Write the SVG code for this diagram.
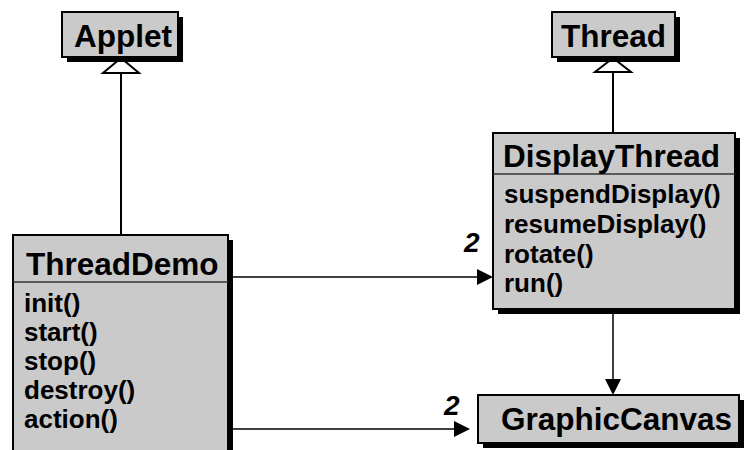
<svg xmlns="http://www.w3.org/2000/svg" width="744" height="450" viewBox="0 0 744 450">
<style>
.box{fill:#cacaca;stroke:#000;stroke-width:2}
.shadow{fill:#000}
.div{stroke:#333;stroke-width:1.5}
.title{font-family:"Liberation Sans",Arial,sans-serif;font-weight:bold;font-size:31.5px;fill:#000}
.meth{font-family:"Liberation Sans",Arial,sans-serif;font-weight:bold;font-size:26px;fill:#000}
.mult{font-family:"Liberation Sans",Arial,sans-serif;font-weight:bold;font-style:italic;font-size:28px;fill:#000}
.gen{stroke:#000;stroke-width:2;fill:none}
.assoc{stroke:#000;stroke-width:1.5;fill:none}
.tri{fill:#fff;stroke:#000;stroke-width:2}
.head{fill:#000}
</style>
<rect width="744" height="450" fill="#fff"/>
<g id="connectors">
  <line class="gen" x1="121" y1="73" x2="121" y2="235"/>
  <polygon class="tri" points="121,58 103,73 139,73"/>
  <line class="gen" x1="613" y1="72" x2="613" y2="133"/>
  <polygon class="tri" points="613,58 595,72 631,72"/>
  <line class="assoc" x1="233" y1="277" x2="478" y2="277"/>
  <polygon class="head" points="493,277 477,269 477,285"/>
  <text class="mult" x="464" y="252">2</text>
  <line class="assoc" x1="233" y1="429" x2="455" y2="429"/>
  <polygon class="head" points="470,429 454,421 454,437"/>
  <text class="mult" x="444" y="415">2</text>
  <line class="assoc" x1="613" y1="314" x2="613" y2="380"/>
  <polygon class="head" points="613,395 605,379 621,379"/>
</g>
<g id="Applet">
  <rect class="shadow" x="67" y="17" width="116" height="45"/>
  <rect class="box" x="62" y="12" width="116" height="45"/>
  <text class="title" x="74" y="47">Applet</text>
</g>
<g id="Thread">
  <rect class="shadow" x="557" y="17" width="123" height="45"/>
  <rect class="box" x="552" y="12" width="123" height="45"/>
  <text class="title" x="561" y="47">Thread</text>
</g>
<g id="ThreadDemo">
  <rect class="shadow" x="18" y="240" width="215" height="230"/>
  <rect class="box" x="13" y="235" width="215" height="230"/>
  <line class="div" x1="13" y1="282" x2="228" y2="282"/>
  <text class="title" x="26" y="275">ThreadDemo</text>
  <text class="meth" x="24" y="312">init()</text>
  <text class="meth" x="24" y="341">start()</text>
  <text class="meth" x="24" y="370">stop()</text>
  <text class="meth" x="24" y="399">destroy()</text>
  <text class="meth" x="24" y="428">action()</text>
</g>
<g id="DisplayThread">
  <rect class="shadow" x="498" y="138" width="242" height="176"/>
  <rect class="box" x="493" y="133" width="242" height="176"/>
  <line class="div" x1="493" y1="174" x2="735" y2="174"/>
  <text class="title" x="503" y="167">DisplayThread</text>
  <text class="meth" x="504" y="203">suspendDisplay()</text>
  <text class="meth" x="504" y="233">resumeDisplay()</text>
  <text class="meth" x="504" y="263">rotate()</text>
  <text class="meth" x="504" y="292">run()</text>
</g>
<g id="GraphicCanvas">
  <rect class="shadow" x="483" y="400" width="261" height="48"/>
  <rect class="box" x="478" y="395" width="261" height="48"/>
  <text class="title" x="501" y="430">GraphicCanvas</text>
</g>
</svg>
